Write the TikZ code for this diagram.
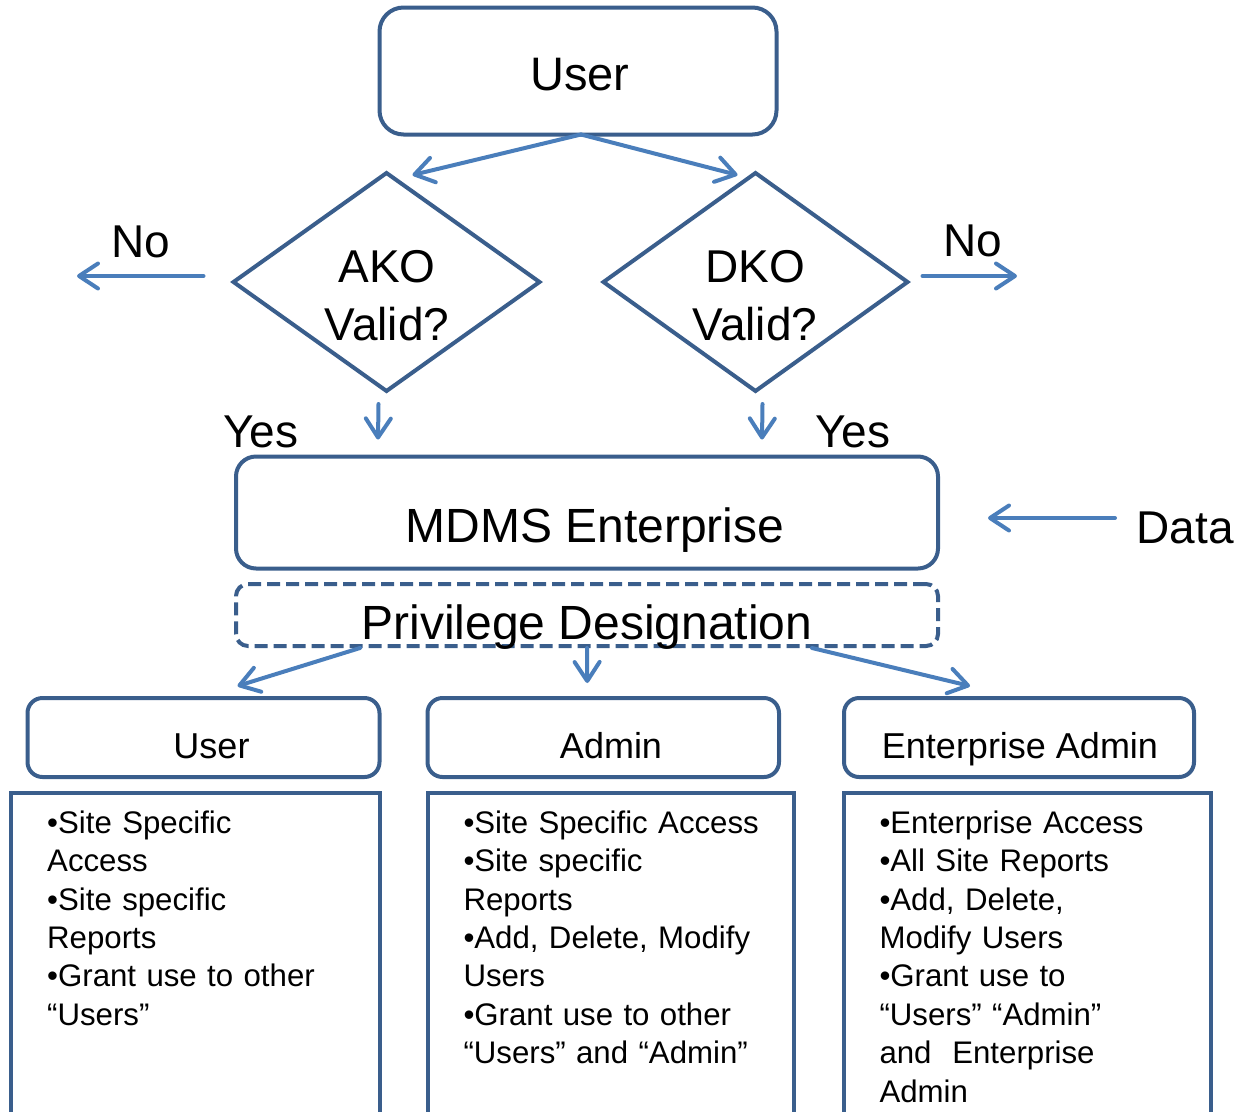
\documentclass[tikz,border=0pt]{standalone}
\usepackage{fontspec}
\setmainfont{Liberation Sans}
\usetikzlibrary{arrows.meta,shapes.geometric,calc}
\definecolor{boxblue}{RGB}{58,94,140}
\definecolor{arrblue}{RGB}{74,126,187}
\tikzset{
  rbox/.style={draw=boxblue, line width=4pt, inner sep=0pt, outer sep=0pt, fill=white},
  arr/.style={draw=arrblue, line width=4pt, line cap=round,
    -{Straight Barb[length=19pt,width=25pt,line cap=round,line join=round]}},
  lbl/.style={anchor=base, inner sep=0pt, font=\fontsize{46}{55}\selectfont},
  dtext/.style={anchor=base, inner sep=0pt, text width=220pt, align=center,
    font=\fontsize{46}{58}\selectfont},
  hdr/.style={anchor=base, inner sep=0pt, font=\fontsize{36}{43}\selectfont},
  body/.style={anchor=base west, inner sep=0pt, text width=345pt, align=left,
    font=\fontsize{31.2}{38.4}\selectfont},
}
\begin{document}
\begin{tikzpicture}[x=1pt,y=-1pt]
\useasboundingbox (0,0) rectangle (1241,1111);
% top user
\node[rbox, rounded corners=24pt, minimum width=397pt, minimum height=127pt] (user) at (578,71) {};
\node[lbl, font=\fontsize{47}{56}\selectfont] (usert) at (580,90) {User};
% diamonds
\node[rbox, diamond, aspect=1.4018, minimum width=306pt, minimum height=218pt] (ako) at (386.5,282) {};
\node[rbox, diamond, aspect=1.4018, minimum width=304pt, minimum height=218pt] (dko) at (755.5,282) {};
\node[dtext] (akot) at (387,282) {AKO\\Valid?};
\node[dtext] (dkot) at (755,282) {DKO\\Valid?};
% labels
\node[lbl] (nol) at (141,257) {No};
\node[lbl] (nor) at (973,256) {No};
\node[lbl] (yesl) at (261,447) {Yes};
\node[lbl] (yesr) at (853,447) {Yes};
\node[lbl] (data) at (1185,543) {Data};
% MDMS
\node[rbox, rounded corners=20pt, minimum width=702pt, minimum height=112pt] (mdms) at (587,512.5) {};
\node[lbl, font=\fontsize{48}{56}\selectfont] (mdmst) at (595,542) {MDMS Enterprise};
% privilege
\node[rbox, dashed, dash pattern=on 13pt off 6pt, rounded corners=12pt, minimum width=702pt, minimum height=62pt, fill=none] (priv) at (587,615) {};
\node[lbl, font=\fontsize{48}{56}\selectfont] (privt) at (587,639) {Privilege Designation};
% headers
\node[rbox, rounded corners=15pt, minimum width=352pt, minimum height=79pt] (h1) at (203.5,737.5) {};
\node[rbox, rounded corners=15pt, minimum width=351.5pt, minimum height=79pt] (h2) at (603.25,737.5) {};
\node[rbox, rounded corners=15pt, minimum width=350pt, minimum height=79pt] (h3) at (1019,737.5) {};
\node[hdr] (h1t) at (211.5,758) {User};
\node[hdr] (h2t) at (611,758) {Admin};
\node[hdr] (h3t) at (1020,758) {Enterprise Admin};
% content boxes
\node[rbox, minimum width=369pt, minimum height=350pt, anchor=north west] (c1) at (10.5,792.5) {};
\node[rbox, minimum width=366.5pt, minimum height=350pt, anchor=north west] (c2) at (427.5,792.5) {};
\node[rbox, minimum width=366.5pt, minimum height=350pt, anchor=north west] (c3) at (844,792.5) {};
\node[body] (c1t) at (47,833.3) {•Site Specific\\Access\\•Site specific\\Reports\\•Grant use to other\\“Users”};
\node[body] (c2t) at (463.3,833.3) {•Site Specific Access\\•Site specific\\Reports\\•Add, Delete, Modify\\Users\\•Grant use to other\\“Users” and “Admin”};
\node[body] (c3t) at (879.3,833.3) {•Enterprise Access\\•All Site Reports\\•Add, Delete,\\Modify Users\\•Grant use to\\“Users” “Admin”\\and\ \ Enterprise\\Admin};
% free ends
\coordinate (noLend) at (77,276);
\coordinate (noRend) at (1017,276);
% arrows
\draw[arr] ($(user.south)+(3,0)$) -- ($(ako.north)+(26,2)$);
\draw[arr] ($(user.south)+(3,0)$) -- ($(dko.north)+(-18,2)$);
\draw[arr] ($(ako.west)+(-30,-6)$) -- (noLend);
\draw[arr] ($(dko.east)+(15,-6)$) -- (noRend);
\draw[arr] ($(ako.south)+(-8,13)$) -- ($(mdms.north west)+(142,-17)$);
\draw[arr] ($(dko.south)+(7,13)$) -- ($(mdms.north west)+(526,-17)$);
\draw[arr] (1115,518) -- ($(mdms.east)+(50,5.5)$);
\draw[arr] ($(priv.south west)+(124,2)$) -- ($(h1.north)+(34,-12)$);
\draw[arr] ($(priv.south)+(0,2)$) -- ($(h2.north)+(-16,-15)$);
\draw[arr] ($(priv.south west)+(576,2)$) -- ($(h3.north)+(-49,-12)$);
\end{tikzpicture}
\end{document}
